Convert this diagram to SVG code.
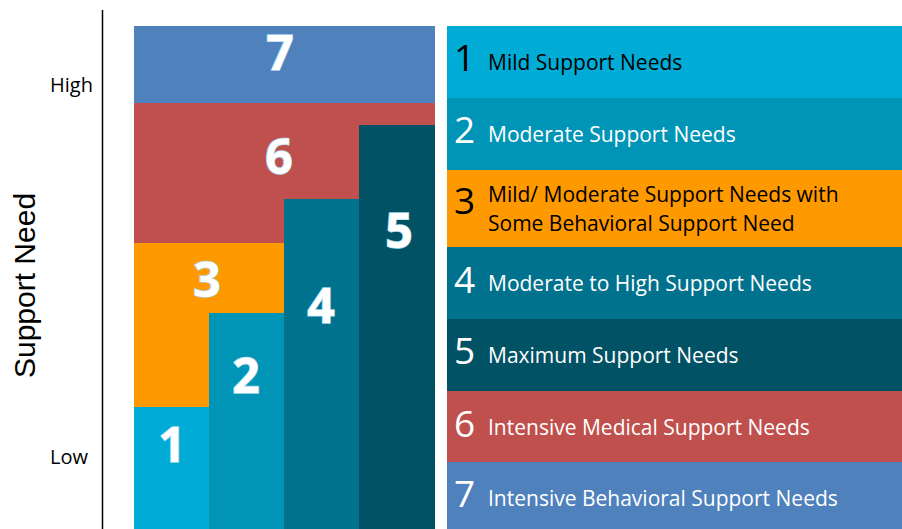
<svg xmlns="http://www.w3.org/2000/svg" width="902" height="529" viewBox="0 0 902 529">
<style>
.ax{font-family:"Open Sans","Liberation Sans",sans-serif;font-size:20px;fill:#000}
.big{font-family:"Open Sans","Liberation Sans",sans-serif;font-weight:700;font-size:48px;fill:#fff;stroke:#a8d8ea;stroke-width:1.6px;paint-order:stroke;text-anchor:middle}
.ln{font-family:"Open Sans","Liberation Sans",sans-serif;font-size:37px}
.lt{font-family:"Open Sans","Liberation Sans",sans-serif;font-size:21px}
.w{fill:#fff}.k{fill:#000}
</style>
<rect width="902" height="529" fill="#fff"/>
<g id="axis">
<line x1="102.5" y1="10" x2="102.5" y2="529" stroke="#000" stroke-width="1.5"/>
<text class="ax" x="93" y="92" text-anchor="end">High</text>
<text class="ax" x="88" y="464" text-anchor="end">Low</text>
<text transform="translate(35,285.5) rotate(-90)" text-anchor="middle" font-family="Liberation Sans,Arial,sans-serif" font-size="30">Support Need</text>
</g>
<g id="chart">
<g id="c7"><rect x="134" y="26" width="301" height="77" fill="#4f81bd"/><text class="big" x="280" y="70">7</text></g>
<g id="c6"><rect x="134" y="103" width="301" height="140" fill="#c0504d"/><text class="big" x="279" y="174">6</text></g>
<g id="c3"><rect x="134" y="243" width="150" height="164" fill="#ff9900"/><text class="big" x="207" y="297">3</text></g>
<g id="c1"><rect x="134" y="407" width="75" height="122" fill="#00acd6"/><text class="big" x="172" y="462">1</text></g>
<g id="c2"><rect x="209" y="313" width="75" height="216" fill="#0095b6"/><text class="big" x="246" y="393">2</text></g>
<g id="c4"><rect x="284" y="199" width="75" height="330" fill="#00728d"/><text class="big" x="321" y="323">4</text></g>
<g id="c5"><rect x="359" y="125" width="76" height="404" fill="#025266"/><text class="big" x="399" y="248">5</text></g>
</g>
<g id="legend">
<g id="l1"><rect x="447" y="26" width="455" height="72" fill="#00acd6"/><text class="ln k" x="454" y="71">1</text><text class="lt k" x="488" y="70">Mild Support Needs</text></g>
<g id="l2"><rect x="447" y="98" width="455" height="72" fill="#0095b6"/><text class="ln w" x="454" y="143">2</text><text class="lt w" x="488" y="142">Moderate Support Needs</text></g>
<g id="l3"><rect x="447" y="170" width="455" height="77" fill="#ff9900"/><text class="ln k" x="454" y="214">3</text><text class="lt k" x="488" y="202">Mild/ Moderate Support Needs with</text><text class="lt k" x="488" y="231">Some Behavioral Support Need</text></g>
<g id="l4"><rect x="447" y="247" width="455" height="72" fill="#00728d"/><text class="ln w" x="454" y="293">4</text><text class="lt w" x="488" y="291">Moderate to High Support Needs</text></g>
<g id="l5"><rect x="447" y="319" width="455" height="72" fill="#025266"/><text class="ln w" x="454" y="364">5</text><text class="lt w" x="488" y="363">Maximum Support Needs</text></g>
<g id="l6"><rect x="447" y="391" width="455" height="71" fill="#c0504d"/><text class="ln w" x="454" y="437">6</text><text class="lt w" x="488" y="435">Intensive Medical Support Needs</text></g>
<g id="l7"><rect x="447" y="462" width="455" height="67" fill="#4f81bd"/><text class="ln w" x="454" y="507">7</text><text class="lt w" x="488" y="506">Intensive Behavioral Support Needs</text></g>
</g>
<g id="connectors"></g>
</svg>
